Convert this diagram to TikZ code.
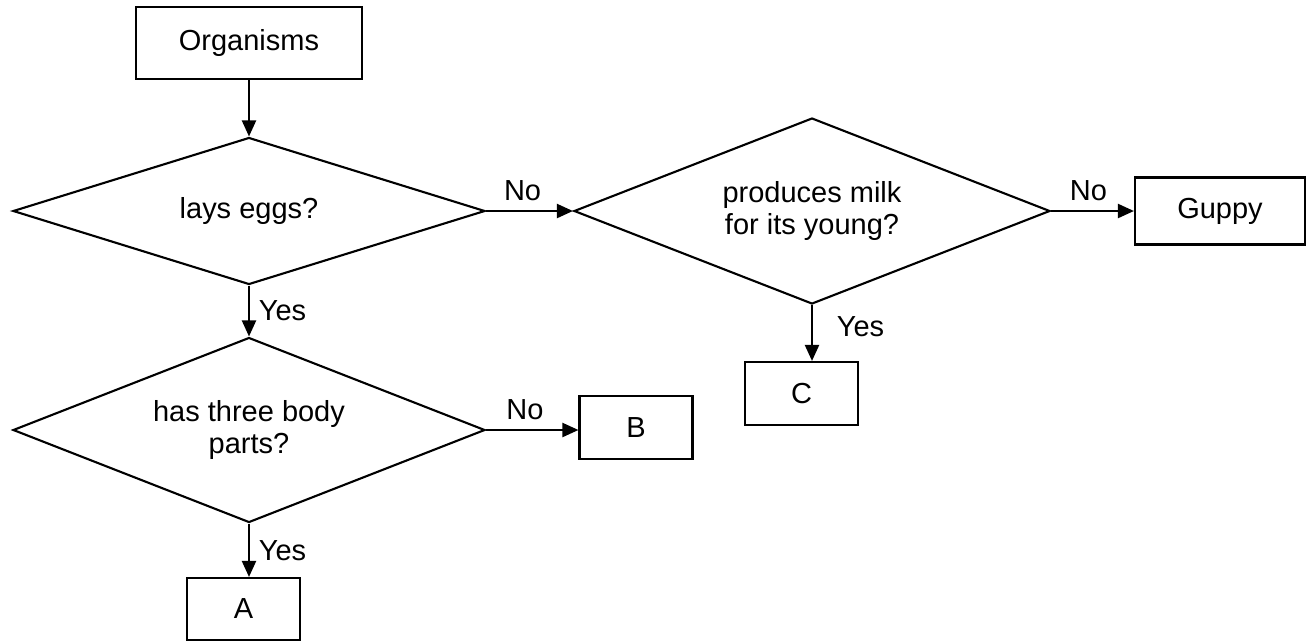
\documentclass[tikz,border=0pt]{standalone}
\usepackage{fontspec}
\setmainfont{Liberation Sans}
\usepackage{tikz}
\usetikzlibrary{shapes.geometric, arrows.meta, positioning}

\begin{document}
\begin{tikzpicture}[
    font=\fontsize{16.5}{18.5}\selectfont,
    box/.style={draw, line width=1.2pt, rectangle, inner sep=0pt, minimum width=2.26cm, minimum height=1.26cm},
    decision/.style={draw, line width=1.2pt, diamond, aspect=3, align=center, inner sep=0pt},
    flow/.style={line width=1.2pt, -{Triangle[length=0.32cm, width=0.28cm]}},
    answer/.style={inner sep=5pt}
]
\useasboundingbox (0,0) rectangle (26.26,-12.86);

% boxes and questions
\node[box, minimum width=4.52cm, minimum height=1.44cm] (org) at (4.98,-0.86) {Organisms};
\node[decision, minimum width=9.44cm, minimum height=2.94cm] (eggs) at (4.98,-4.22) {lays eggs?};
\node[decision, minimum width=9.52cm, minimum height=3.72cm] (milk) at (16.24,-4.22) {produces milk\\for its young?};
\node[box, minimum width=3.4cm, minimum height=1.34cm] (guppy) at (24.4,-4.22) {Guppy};
\node[box] (c) at (16.03,-7.87) {C};
\node[decision, minimum width=9.44cm, minimum height=3.7cm] (body) at (4.98,-8.6) {has three body\\parts?};
\node[box] (b) at (12.72,-8.55) {B};
\node[box, minimum height=1.24cm] (a) at (4.87,-12.18) {A};

% connectors
\draw[flow] (org.south) -- (org.south |- eggs.north);
\draw[flow] (eggs.east) -- node[answer, above, pos=0.42] {No} (milk.west);
\draw[flow] (milk.east) -- node[answer, above, pos=0.45] {No} (guppy.west);
\draw[flow] (milk.south) -- node[answer, right, pos=0.38, xshift=0.3cm] {Yes} (milk.south |- c.north);
\draw[flow] (eggs.south) -- node[answer, right] {Yes} (body.north);
\draw[flow] (body.east) -- node[answer, above, pos=0.42] {No} (body.east -| b.west);
\draw[flow] (body.south) -- node[answer, right] {Yes} (body.south |- a.north);
\end{tikzpicture}
\end{document}
